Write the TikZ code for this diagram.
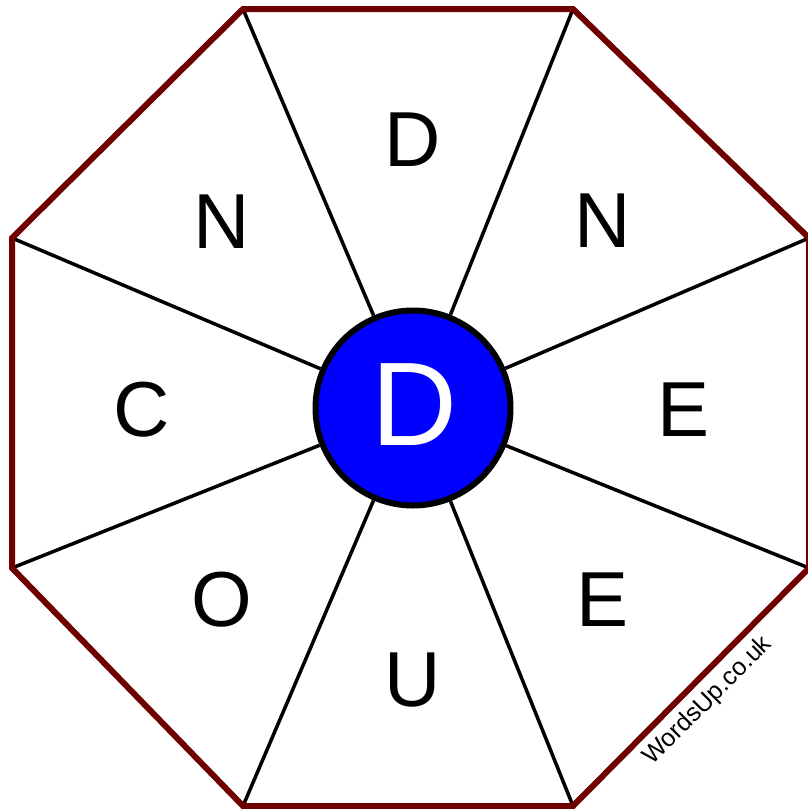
\documentclass[tikz,border=0pt]{standalone}
\usepackage{fontspec}
\setmainfont{Liberation Sans}
\definecolor{rim}{RGB}{110,0,0}
\definecolor{hub}{RGB}{0,0,255}
\begin{document}
\begin{tikzpicture}[x=1pt,y=-1pt,
  rimline/.style={draw=rim,line width=6pt,line join=miter},
  spoke/.style={draw=black,line width=3.5pt},
  letter/.style={inner sep=0pt,anchor=base,font=\fontsize{78}{78}\selectfont},
  hubnode/.style={circle,draw=black,line width=6pt,fill=hub,minimum size=195pt,inner sep=0pt}]
\useasboundingbox (0,0) rectangle (808,809);
\coordinate (v1) at (243,9);
\coordinate (v2) at (573,9);
\coordinate (v3) at (809,238);
\coordinate (v4) at (809,568);
\coordinate (v5) at (573,806);
\coordinate (v6) at (243,806);
\coordinate (v7) at (12,568);
\coordinate (v8) at (12,238);
\node[hubnode] (c) at (413,408) {};
\foreach \v in {v1,v2,v3,v4,v5,v6,v7,v8} \draw[spoke] (\v) -- (c);
\draw[rimline] (v1) -- (v2) -- (v3) -- (v4) -- (v5) -- (v6) -- (v7) -- (v8) -- cycle;
\node[letter,text=white,font=\fontsize{119}{119}\selectfont] (lc) at (414,445) {D};
\node[letter] (l1) at (413,166) {D};
\node[letter] (l2) at (603,247) {N};
\node[letter] (l3) at (684,436) {E};
\node[letter] (l4) at (603,626) {E};
\node[letter] (l5) at (413,706) {U};
\node[letter] (l6) at (222,626) {O};
\node[letter] (l7) at (142,436) {C};
\node[letter] (l8) at (222,248) {N};
\node[inner sep=0pt,rotate=45,font=\fontsize{25}{25}\selectfont] (w) at (708,701) {WordsUp.co.uk};
\end{tikzpicture}
\end{document}
